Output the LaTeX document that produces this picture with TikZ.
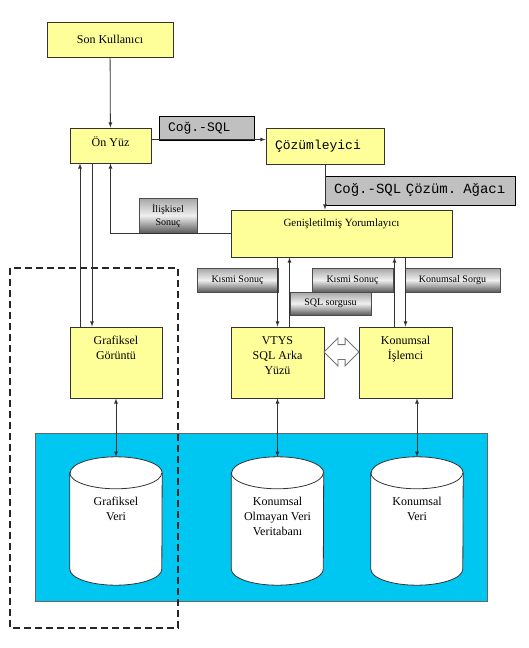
\documentclass[tikz,border=0pt]{standalone}
\usepackage{fontspec}
\setmainfont{Liberation Serif}
\setmonofont{Liberation Mono}
\usetikzlibrary{shapes.arrows}
\definecolor{kutusari}{RGB}{255,255,153}
\definecolor{etiketgri}{RGB}{192,192,192}
\definecolor{havuzmavi}{RGB}{0,198,242}

\begin{document}
\begin{tikzpicture}[x=1pt,y=-1pt,>=latex,
          kutu/.style={rectangle,draw=black!80,fill=kutusari,line width=0.9pt,inner sep=0pt},
          yazi/.style={font=\fontsize{12}{15}\selectfont,align=center},
          ust/.style={label={[yazi,anchor=north,yshift=-6pt]north:#1}},
          kod/.style={rectangle,draw=black,fill=etiketgri,line width=0.9pt,inner sep=0pt,
            align=left,font=\ttfamily\fontsize{13}{15}\selectfont},
          etiket/.style={rectangle,draw=black!70,line width=0.6pt,inner sep=0pt,
            top color=black!35,bottom color=black!65,middle color=black!6,
            font=\fontsize{10}{13}\selectfont,align=center},
          veri/.style={rectangle,inner sep=0pt,minimum width=92pt,minimum height=128pt},
          silindir/.style={draw=black!80,fill=white,line width=0.8pt},
          ok/.style={->,line width=0.8pt,draw=black!80}
        ]
        \useasboundingbox (0,0) rectangle (528,648);

        \fill[havuzmavi,draw=black!60,line width=0.8pt] (35,433) rectangle (487,601);

        \node[kutu,yazi,minimum width=126pt,minimum height=35pt] (son) at (110,39.5) {Son Kullanıcı};
        \node[kutu,minimum width=81pt,minimum height=35pt,ust={Ön Yüz}] (onyuz) at (110.5,145.5) {};
        \node[kutu,minimum width=118pt,minimum height=36pt,text width=100pt,align=left,
          font=\ttfamily\fontsize{13}{15}\selectfont] (coz) at (325,146) {Çözümleyici};
        \node[kutu,minimum width=221pt,minimum height=47pt,
          label={[yazi,font=\fontsize{11}{15}\selectfont,anchor=north,yshift=-6pt]north:Genişletilmiş Yorumlayıcı}] (gen) at (341.5,233.5) {};
        \node[kutu,minimum width=92pt,minimum height=71pt,ust={Grafiksel\\Görüntü}] (graf) at (116,362.5) {};
        \node[kutu,minimum width=93pt,minimum height=71pt,ust={VTYS\\SQL Arka\\Yüzü}] (vtys) at (277.5,362.5) {};
        \node[kutu,minimum width=93pt,minimum height=71pt,ust={Konumsal\\İşlemci}] (konis) at (405.5,362.5) {};

        \node[kod,minimum width=95pt,minimum height=24pt,text width=77pt] (lcog) at (206.5,128) {Coğ.-SQL};
        \node[kod,minimum width=190pt,minimum height=29pt,text width=172pt,
          font=\ttfamily\fontsize{14}{16}\selectfont] (lagac) at (420,190.5) {Coğ.-SQL Çözüm. Ağacı};
        \node[etiket,minimum width=58pt,minimum height=35pt] (liliskisel) at (168,215.5) {İlişkisel\\Sonuç};
        \node[etiket,minimum width=81pt,minimum height=24pt] (lkismi) at (237.5,280) {Kısmi Sonuç};
        \node[etiket,minimum width=81pt,minimum height=24pt] (lkismiiki) at (352.5,280) {Kısmi Sonuç};
        \node[etiket,minimum width=95pt,minimum height=24pt] (lsorgu) at (452.5,280) {Konumsal Sorgu};
        \node[etiket,minimum width=81pt,minimum height=23pt] (lsql) at (330.5,303.5) {SQL sorgusu};

        \node[veri] (vgraf) at (116,521) {};
        \node[veri] (vdb) at (277.5,521) {};
        \node[veri] (vkon) at (417,521) {};
        \foreach \v in {vgraf,vdb,vkon} {
          \draw[silindir] ([yshift=-16pt]\v.north west) -- ([yshift=16pt]\v.south west)
            arc[start angle=180,end angle=360,x radius=46pt,y radius=16pt]
            -- ([yshift=-16pt]\v.north east)
            arc[start angle=0,end angle=180,x radius=46pt,y radius=16pt] -- cycle;
          \draw[silindir,fill=none] ([yshift=-16pt]\v.north west)
            arc[start angle=180,end angle=360,x radius=46pt,y radius=16pt];
        }
        \node[yazi,anchor=north] (tgraf) at ([yshift=-37pt]vgraf.north) {Grafiksel\\Veri};
        \node[yazi,anchor=north] (tdb) at ([yshift=-37pt]vdb.north) {Konumsal\\Olmayan Veri\\Veritabanı};
        \node[yazi,anchor=north] (tkon) at ([yshift=-37pt]vkon.north) {Konumsal\\Veri};

        \node[double arrow,draw=black!55,fill=white,line width=0.8pt,inner xsep=0pt,inner ysep=7pt,
          minimum height=35pt,double arrow head extend=6.5pt] (cift) at (341.5,352) {};

        \draw[dashed,dash pattern=on 7pt off 4pt,line width=1.5pt,black!85] (10,268) rectangle (178,628);

        \draw[ok] (son) -- (onyuz);
        \draw[ok] ([yshift=6pt]onyuz.east) -- ([yshift=6pt]onyuz.east -| coz.west);
        \draw[ok] (coz.south) -- (coz.south |- gen.north);
        \draw[ok] (gen.west) -| (onyuz.south);
        \draw[ok] ([xshift=-36pt]graf.north) -- ([xshift=-36pt]graf.north |- onyuz.south);
        \draw[ok] ([xshift=-24pt]graf.north |- onyuz.south) -- ([xshift=-24pt]graf.north);
        \draw[ok] (vtys.north |- gen.south) -- (vtys.north);
        \draw[ok] ([xshift=12pt]vtys.north) -- ([xshift=12pt]vtys.north |- gen.south);
        \draw[ok] ([xshift=-11pt]konis.north) -- ([xshift=-11pt]konis.north |- gen.south);
        \draw[ok] (konis.north |- gen.south) -- (konis.north);
        \draw[ok,<->] (graf.south) -- (vgraf.north);
        \draw[ok,<->] (vtys.south) -- (vdb.north);
        \draw[ok,<->] (vkon.north |- konis.south) -- (vkon.north);
        \end{tikzpicture}
\end{document}
